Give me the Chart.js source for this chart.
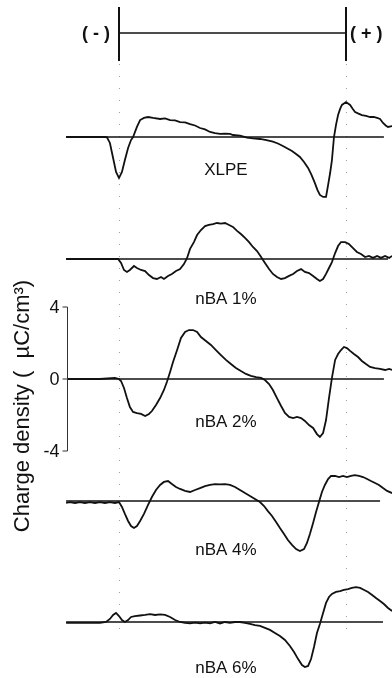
<!DOCTYPE html>
<html>
<head>
<meta charset="utf-8">
<script src="https://cdn.jsdelivr.net/npm/chart.js@4/dist/chart.umd.min.js"></script>
<style>
  html, body { margin: 0; padding: 0; background: #fff; }
  canvas { display: block; }
</style>
</head>
<body>
<canvas id="c" width="392" height="678"></canvas>
<script>
// Space-charge profiles across the insulation (position: 0 = cathode, 100 = anode)
// Charge density in µC/cm³

const sampleNames = ['XLPE', 'nBA 1%', 'nBA 2%', 'nBA 4%', 'nBA 6%'];
const electrodePos = [0, 100];
const electrodeSigns = ['( - )', '( + )'];
const densityTicks = [4, 0, -4];

const xlpePos = [-23.3, -15, -6, -5.3, -4.0, -2.6, -1.3, 0, 1.3, 2.6, 4.0, 5.3, 6.2, 7.9, 9.3, 11.0, 12.8, 15.0, 18.1, 20.3,
  22.5, 24.7, 26.9, 29.1, 31.3, 33.5, 35.7, 37.9, 40.1, 42.3, 44.5, 46.7, 48.9, 50.2, 53.3, 56.4, 59.0, 62.1, 65.0, 67.8,
  70.0, 72.2, 74.2, 76.2, 78.0, 79.7, 81.5, 83.3, 84.8, 86.3, 87.4, 88.5, 89.9, 91.2, 92.1, 93.0, 93.8, 94.7, 95.6, 96.5,
  97.4, 98.2, 100.0, 101.8, 103.0, 104.0, 105.5, 107.0, 108.8, 110.6, 112.2, 113.7, 115.0, 116.3, 117.5, 118.5, 120.3];
const xlpeRho = [0, 0, 0, -0.02, -0.33, -1.17, -1.94, -2.28, -1.94, -1.28, -0.61, -0.17, 0, 0.56, 0.94, 1.06, 1.11, 1.06, 1.0, 1.03,
  0.94, 0.92, 0.83, 0.81, 0.72, 0.64, 0.5, 0.42, 0.28, 0.22, 0.17, 0.19, 0.17, 0.11, 0.08, -0.04, -0.08, -0.11, -0.17, -0.26,
  -0.36, -0.5, -0.64, -0.78, -0.94, -1.11, -1.39, -1.72, -2.1, -2.56, -2.94, -3.22, -3.33, -3.33, -2.67, -2.0, -1.28, 0, 0.67, 1.22,
  1.56, 1.78, 1.94, 1.78, 1.56, 1.39, 1.3, 1.22, 1.17, 1.11, 1.12, 1.06, 1.0, 0.78, 0.64, 0.56, 0.61];

const nba1Pos = [-23.3, -8.4, -0.4, 0.9, 2.2, 3.5, 4.8, 6.6, 7.9, 9.7, 11.5, 13.2, 15.0, 16.7, 18.5, 19.8, 21.6, 23.3, 25.1, 26.9,
  28.6, 30.0, 31.3, 33.0, 34.4, 36.1, 37.9, 39.6, 41.4, 43.2, 44.9, 46.7, 48.5, 50.2, 52.0, 53.7, 55.5, 57.3, 59.0, 60.8,
  62.6, 64.3, 66.1, 67.8, 69.6, 71.4, 73.1, 74.9, 76.7, 78.4, 80.2, 81.9, 83.7, 85.5, 87.2, 88.5, 89.9, 91.2, 92.5, 93.8,
  95.2, 96.5, 97.8, 99.6, 101.3, 103.1, 104.8, 106.6, 108.4, 110.1, 111.9, 113.7, 115.4, 117.2, 119.0, 120.3];
const nba1Rho = [0, 0, 0, -0.22, -0.61, -0.72, -0.61, -0.39, -0.5, -0.61, -0.67, -0.89, -1.06, -1.11, -1.0, -1.11, -0.94, -0.83, -0.67, -0.56,
  -0.28, 0.06, 0.56, 0.94, 1.33, 1.61, 1.83, 1.89, 1.94, 2.0, 1.97, 2.0, 1.89, 1.78, 1.56, 1.39, 1.17, 0.94, 0.67, 0.44,
  0.11, -0.22, -0.56, -0.83, -1.0, -1.11, -1.06, -0.94, -0.83, -0.67, -0.56, -0.72, -0.78, -0.94, -1.11, -1.22, -1.11, -0.83, -0.5, -0.17,
  0.33, 0.72, 0.94, 0.94, 0.83, 0.61, 0.39, 0.28, 0.11, 0.17, 0.06, 0.17, 0.06, 0.17, 0.06, 0.17];

const nba2Pos = [-22.9, -8.4, -1.8, 0, 0.9, 2.2, 3.5, 4.8, 6.2, 7.9, 9.7, 11.5, 13.2, 14.5, 16.3, 18.1, 19.8, 21.1, 22.5, 23.8,
  25.6, 27.3, 29.1, 30.8, 32.6, 34.4, 36.1, 38.3, 40.5, 42.7, 44.9, 47.1, 49.3, 51.5, 53.7, 55.9, 58.1, 60.4, 62.6, 64.3,
  66.1, 67.8, 69.6, 71.4, 73.1, 74.9, 76.7, 78.4, 80.2, 81.9, 83.7, 85.5, 87.2, 88.5, 89.9, 91.2, 92.5, 93.8, 95.2, 96.5,
  97.8, 99.1, 100.4, 101.8, 103.5, 105.3, 107.0, 108.8, 110.6, 112.8, 115.0, 117.2, 119.0, 120.3];
const nba2Rho = [0, 0, 0.06, 0, -0.11, -0.5, -1.06, -1.56, -1.83, -1.89, -1.94, -2.06, -1.94, -1.78, -1.44, -1.06, -0.61, -0.17, 0.39, 0.94,
  1.61, 2.28, 2.61, 2.72, 2.72, 2.61, 2.33, 2.11, 1.89, 1.61, 1.33, 1.06, 0.83, 0.61, 0.44, 0.28, 0.17, 0.11, 0.06, -0.06,
  -0.28, -0.61, -1.06, -1.5, -1.89, -2.11, -2.17, -2.11, -2.17, -2.33, -2.56, -2.72, -3.06, -3.22, -3.0, -2.28, -1.06, 0.06, 1.06, 1.39,
  1.61, 1.78, 1.72, 1.56, 1.39, 1.22, 1.0, 0.83, 0.67, 0.61, 0.56, 0.5, 0.56, 0.5];

const nba4Pos = [-23.3, -21.6, -19.4, -17.2, -15.0, -12.8, -10.6, -8.4, -6.2, -4.0, -1.8, 0, 1.3, 2.6, 4.0, 5.3, 6.6, 7.9, 9.3, 11.0,
  12.8, 14.5, 16.3, 18.1, 19.8, 21.6, 23.3, 25.1, 26.9, 29.1, 31.3, 33.5, 35.7, 37.9, 40.1, 42.3, 44.5, 46.7, 48.9, 51.1,
  53.3, 55.5, 57.7, 59.9, 62.1, 63.9, 65.6, 67.4, 69.2, 70.9, 72.7, 74.4, 76.2, 78.0, 79.7, 81.5, 82.8, 84.1, 85.5, 86.8,
  88.1, 89.4, 90.7, 92.1, 93.4, 95.2, 96.9, 98.7, 100.4, 102.2, 103.9, 105.7, 107.5, 109.3, 111.0, 112.8, 114.5, 116.3, 118.1, 120.3];
const nba4Rho = [-0.11, -0.06, -0.11, -0.06, -0.11, -0.06, -0.11, -0.06, -0.11, -0.06, -0.11, -0.06, -0.33, -0.72, -1.11, -1.39, -1.5, -1.39, -1.11, -0.72,
  -0.22, 0.22, 0.61, 0.89, 1.06, 1.11, 0.94, 0.78, 0.67, 0.56, 0.5, 0.61, 0.72, 0.83, 0.89, 0.94, 0.92, 0.94, 0.89, 0.78,
  0.61, 0.44, 0.28, 0.11, -0.06, -0.28, -0.56, -0.83, -1.17, -1.5, -1.83, -2.17, -2.44, -2.67, -2.78, -2.67, -2.33, -1.83, -1.22, -0.61,
  -0.06, 0.5, 0.89, 1.22, 1.39, 1.39, 1.33, 1.39, 1.33, 1.39, 1.44, 1.39, 1.33, 1.22, 1.11, 1.0, 0.89, 0.72, 0.56, 0.44];

const nba6Pos = [-23.3, -17.2, -8.4, -5.7, -4.0, -2.6, -1.3, 0, 1.3, 2.6, 4.0, 5.3, 7.0, 9.3, 11.5, 13.7, 15.9, 18.1, 20.3, 22.5,
  24.7, 26.9, 29.1, 31.3, 33.5, 35.7, 37.9, 40.1, 42.3, 44.5, 46.7, 48.9, 51.1, 53.3, 55.5, 57.7, 59.9, 62.1, 64.3, 66.5,
  68.7, 70.9, 73.1, 75.3, 77.1, 78.9, 80.6, 81.9, 83.3, 84.6, 85.9, 87.2, 88.5, 89.9, 91.2, 92.5, 93.8, 95.6, 97.4, 99.1,
  100.9, 102.6, 104.4, 106.2, 108.0, 109.7, 111.5, 113.2, 115.0, 116.7, 118.5, 120.3];
const nba6Rho = [-0.05, -0.05, -0.05, 0, 0.17, 0.39, 0.5, 0.33, 0.11, 0, 0.11, 0.28, 0.33, 0.36, 0.39, 0.44, 0.39, 0.42, 0.39, 0.28,
  0.11, 0, -0.05, -0.08, -0.03, -0.08, -0.03, -0.08, 0, -0.08, 0, -0.05, 0, 0, -0.05, -0.11, -0.17, -0.22, -0.33, -0.44,
  -0.61, -0.78, -1.0, -1.33, -1.67, -2.06, -2.39, -2.5, -2.44, -2.06, -1.39, -0.61, -0.11, 0.5, 1.06, 1.39, 1.56, 1.67, 1.72, 1.78,
  1.83, 1.89, 1.94, 1.89, 1.78, 1.67, 1.5, 1.33, 1.17, 1.0, 0.78, 0.61];

const seriesPos = [xlpePos, nba1Pos, nba2Pos, nba4Pos, nba6Pos];
const seriesRho = [xlpeRho, nba1Rho, nba2Rho, nba4Rho, nba6Rho];

// ---- layout (canvas pixels / position units) ----
const W = 392, H = 678;
const PX_PER_UNIT = 18;                       // vertical: pixels per µC/cm³
const X_MIN = -52.42, X_MAX = 120.26;         // horizontal span of the canvas in position units
const panelLayout = [
  { base: 137, lineFrom: -23.3, lineTo: 116.7, labelAt: -1.83 },
  { base: 259, lineFrom: -23.3, lineTo: 118.5, labelAt: -2.22 },
  { base: 379, lineFrom: -22.9, lineTo: 116.7, labelAt: -2.38 },
  { base: 501, lineFrom: -23.3, lineTo: 115.0, labelAt: -2.72 },
  { base: 622, lineFrom: -23.3, lineTo: 116.3, labelAt: -2.6 }
];
const LABEL_X = 47.1;
const AXIS_PANEL = 2, AXIS_X = -22.9;
const FONT = "'Liberation Sans', Arial, Helvetica, sans-serif";
const INK = '#111';

const scales = { x: { type: 'linear', min: X_MIN, max: X_MAX, display: false } };
panelLayout.forEach((p, i) => {
  scales['y' + i] = {
    type: 'linear', display: false,
    min: -(H - p.base) / PX_PER_UNIT,
    max: p.base / PX_PER_UNIT
  };
});

const datasets = sampleNames.map((name, i) => ({
  label: name,
  yAxisID: 'y' + i,
  data: seriesPos[i].map((x, k) => ({ x: x, y: seriesRho[i][k] })),
  showLine: true,
  borderColor: INK,
  borderWidth: 1.8,
  pointRadius: 0,
  tension: 0,
  fill: false,
  clip: false
}));

const decorations = {
  id: 'decorations',
  beforeDatasetsDraw(chart) {
    const ctx = chart.ctx, xs = chart.scales.x;
    ctx.save();
    // faint dotted guides below each electrode
    ctx.strokeStyle = '#a0a0a0';
    ctx.lineWidth = 1;
    ctx.setLineDash([1, 11]);
    electrodePos.forEach(u => {
      const px = Math.round(xs.getPixelForValue(u)) + 0.5;
      ctx.beginPath(); ctx.moveTo(px, 64); ctx.lineTo(px, 640); ctx.stroke();
    });
    ctx.setLineDash([]);
    // zero lines of each profile
    ctx.strokeStyle = INK;
    ctx.lineWidth = 1.3;
    panelLayout.forEach((p, i) => {
      const ys = chart.scales['y' + i];
      const py = ys.getPixelForValue(0);
      ctx.beginPath();
      ctx.moveTo(xs.getPixelForValue(p.lineFrom), py);
      ctx.lineTo(xs.getPixelForValue(p.lineTo), py);
      ctx.stroke();
    });
    ctx.restore();
  },
  afterDatasetsDraw(chart) {
    const ctx = chart.ctx, xs = chart.scales.x;
    ctx.save();
    ctx.fillStyle = INK;
    ctx.strokeStyle = INK;

    // sample names
    ctx.font = '17px ' + FONT;
    ctx.textAlign = 'center';
    ctx.textBaseline = 'middle';
    panelLayout.forEach((p, i) => {
      const ys = chart.scales['y' + i];
      ctx.fillText(sampleNames[i], xs.getPixelForValue(LABEL_X), ys.getPixelForValue(p.labelAt));
    });

    // electrode sketch: cathode / anode plates joined by the sample
    const xc = xs.getPixelForValue(electrodePos[0]);
    const xa = xs.getPixelForValue(electrodePos[1]);
    ctx.lineWidth = 2;
    [xc, xa].forEach(px => {
      ctx.beginPath(); ctx.moveTo(px, 7); ctx.lineTo(px, 61); ctx.stroke();
    });
    ctx.lineWidth = 1.5;
    ctx.beginPath(); ctx.moveTo(xc, 33); ctx.lineTo(xa, 33); ctx.stroke();
    ctx.font = 'bold 18px ' + FONT;
    ctx.textBaseline = 'middle';
    ctx.textAlign = 'right';
    ctx.fillText(electrodeSigns[0], xc - 9, 34);
    ctx.textAlign = 'left';
    ctx.fillText(electrodeSigns[1], xa + 4, 34);

    // density scale on the nBA 2% profile
    const ys = chart.scales['y' + AXIS_PANEL];
    const ax = Math.round(xs.getPixelForValue(AXIS_X)) + 0.5;
    const top = ys.getPixelForValue(Math.max(...densityTicks));
    const bot = ys.getPixelForValue(Math.min(...densityTicks));
    ctx.strokeStyle = '#333';
    ctx.lineWidth = 1;
    ctx.beginPath(); ctx.moveTo(ax, top); ctx.lineTo(ax, bot); ctx.stroke();
    ctx.font = '18px ' + FONT;
    ctx.textAlign = 'right';
    ctx.textBaseline = 'middle';
    ctx.fillStyle = INK;
    densityTicks.forEach(v => {
      const py = ys.getPixelForValue(v);
      ctx.beginPath(); ctx.moveTo(ax - 5, py); ctx.lineTo(ax, py); ctx.stroke();
      ctx.fillText(String(v), ax - 8, py + 1);
    });

    // axis title
    ctx.save();
    ctx.translate(23, 406);
    ctx.rotate(-Math.PI / 2);
    ctx.font = '22px ' + FONT;
    ctx.textAlign = 'center';
    ctx.textBaseline = 'middle';
    ctx.fillText('Charge density (  \u00B5C/cm\u00B3)', 0, 0);
    ctx.restore();

    ctx.restore();
  }
};

new Chart(document.getElementById('c'), {
  type: 'scatter',
  data: { datasets: datasets },
  options: {
    responsive: false,
    animation: false,
    layout: { padding: 0 },
    scales: scales,
    plugins: { legend: { display: false }, tooltip: { enabled: false }, title: { display: false } },
    events: []
  },
  plugins: [decorations]
});
</script>
</body>
</html>
